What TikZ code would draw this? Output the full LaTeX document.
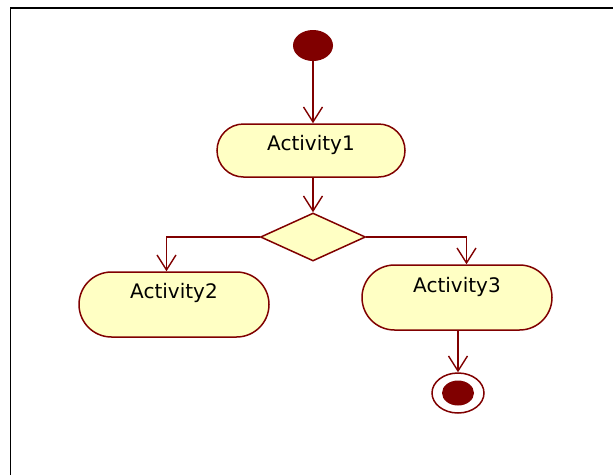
\documentclass[tikz,border=0pt]{standalone}
\usepackage{fontspec}
\setmainfont{DejaVu Sans}
\usepackage{tikz}
\usetikzlibrary{shapes.geometric,shapes.misc,arrows.meta}
\usepackage{xcolor}
\definecolor{umlred}{HTML}{800000}
\definecolor{umlfill}{HTML}{FFFFC4}

\tikzset{
	act/.style={rounded rectangle,draw=umlred,fill=umlfill,line width=1.5pt,inner sep=0pt,minimum width=190pt,minimum height=65pt,font=\fontsize{20}{24}\selectfont},
	flow/.style={draw=umlred,line width=1.4pt,-{Straight Barb[length=15pt,width=19pt,line width=1.4pt]}}
}

\begin{document}
\begin{tikzpicture}[x=1pt,y=-1pt]
			\useasboundingbox (0,0) rectangle (613,475);
			\draw[line width=1.6pt] (10.5,475) -- (10.5,8) -- (613,8);
			\coordinate (s) at (313,45.5);
			\coordinate (a1) at (311,150.5);
			\coordinate (d) at (313,237);
			\coordinate (a2) at (174,304.5);
			\coordinate (a3) at (457,297.5);
			\coordinate (e) at (458,393);
			\node[ellipse,fill=umlred,minimum width=40pt,minimum height=31pt,inner sep=0pt] (start) at (s) {};
			\node[act,minimum width=188pt,minimum height=53pt,text height=15pt,text depth=15pt] (act1) at (a1) {Activity1};
			\node[diamond,draw=umlred,fill=umlfill,line width=1.5pt,inner sep=0pt,minimum width=105pt,minimum height=48pt] (dec) at (d) {};
			\node[act,text height=15pt,text depth=27pt] (act2) at (a2) {Activity2};
			\node[act,text height=15pt,text depth=25pt] (act3) at (a3) {Activity3};
			\node[ellipse,draw=umlred,line width=1.5pt,fill=white,minimum width=52pt,minimum height=40pt,inner sep=0pt] (end) at (e) {};
			\node[ellipse,fill=umlred,minimum width=32pt,minimum height=25pt,inner sep=0pt] (endin) at (e) {};
			\draw[flow] (start.south -| dec.north) -- (act1.north -| dec.north);
			\draw[flow] (act1.south -| dec.north) -- (dec.north);
			\draw[flow] (dec.west) -| ([xshift=-7.5pt]act2.north);
			\draw[flow] (dec.east) -| ([xshift=9.5pt]act3.north);
			\draw[flow] (act3.south -| end.north) -- (end.north);
		\end{tikzpicture}
\end{document}
